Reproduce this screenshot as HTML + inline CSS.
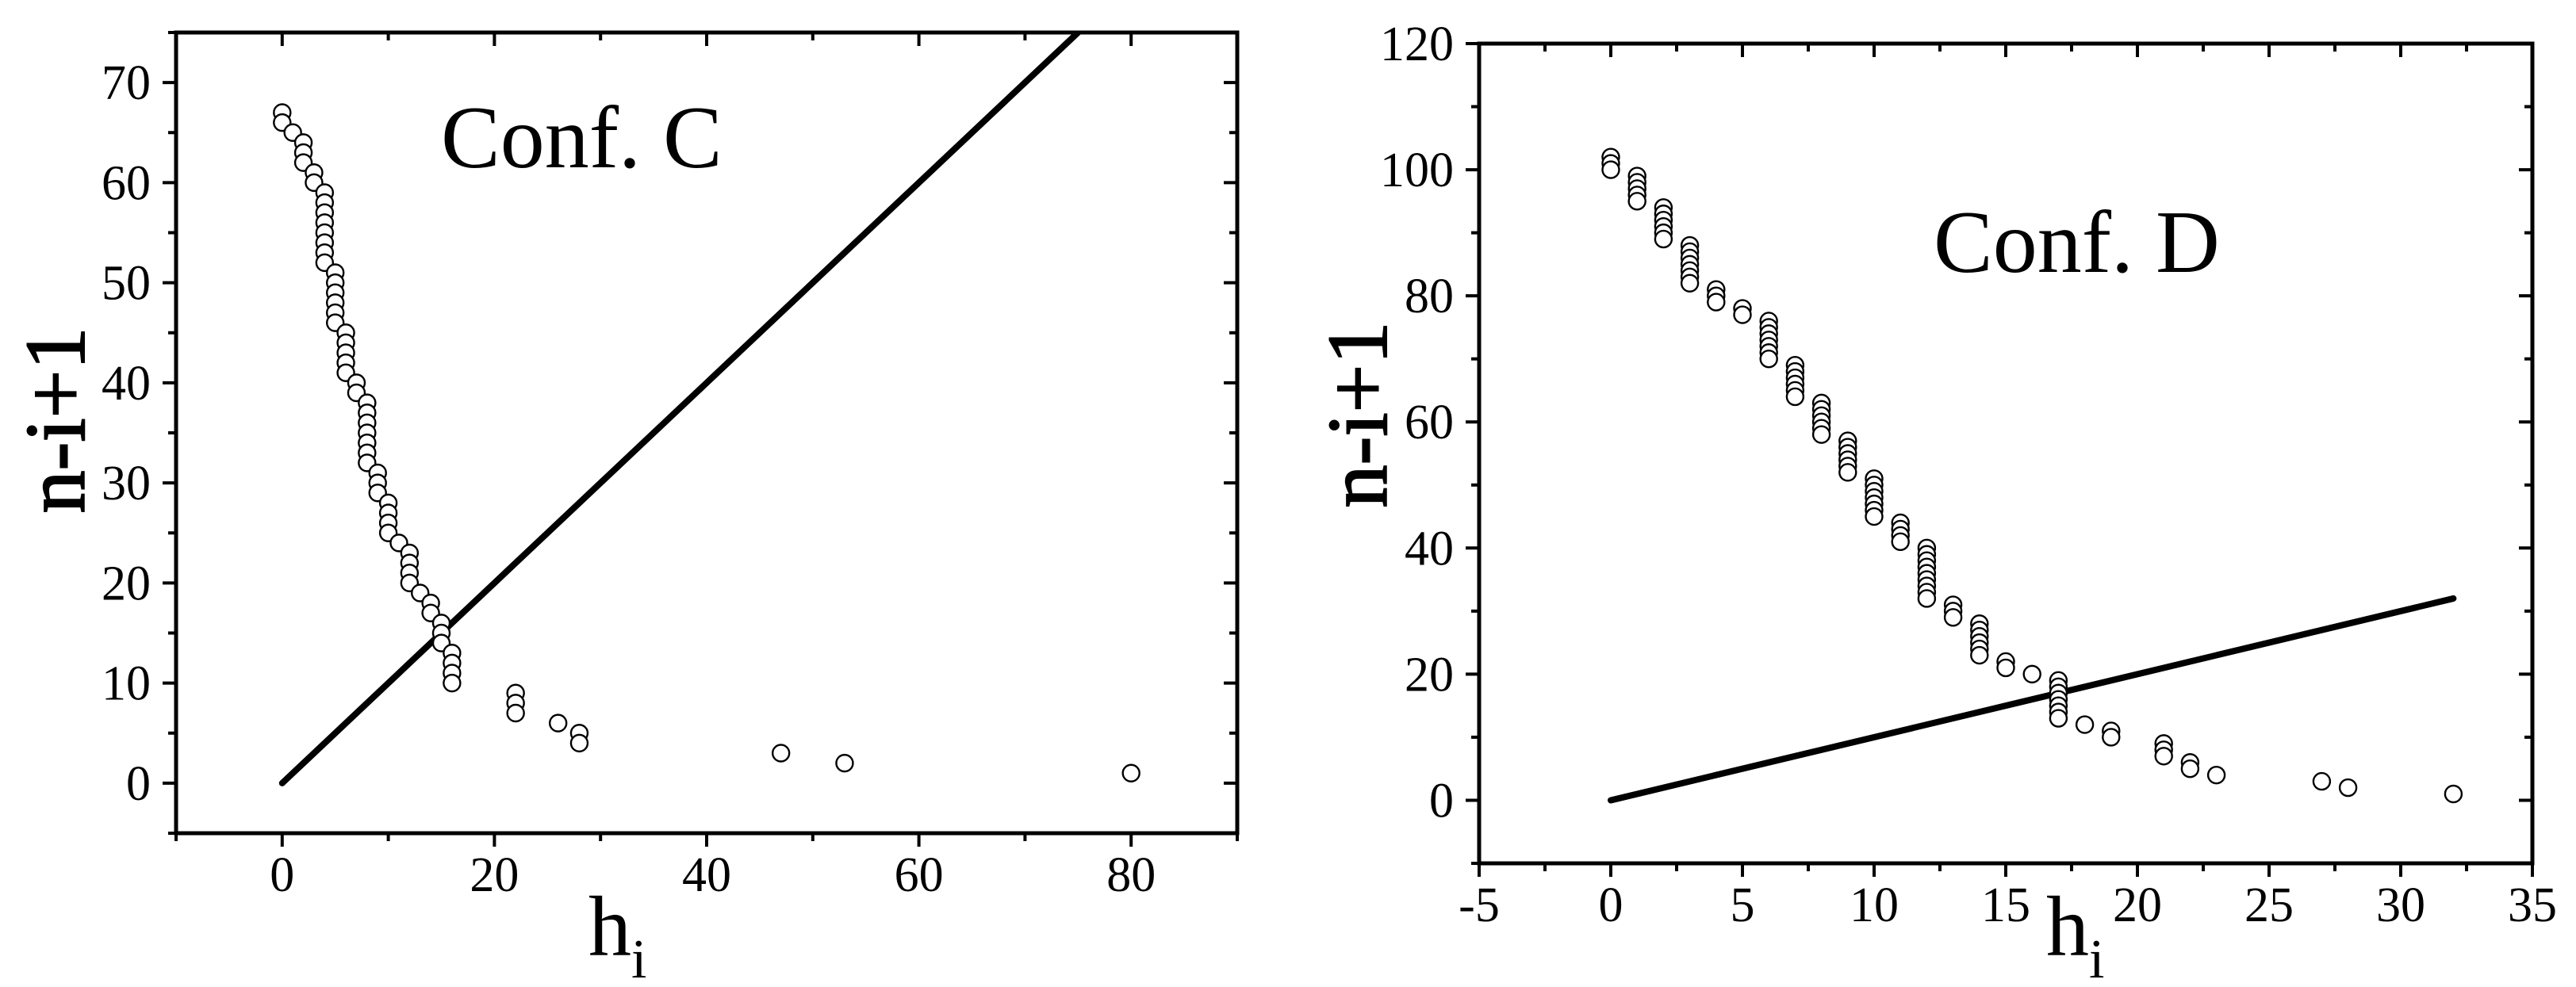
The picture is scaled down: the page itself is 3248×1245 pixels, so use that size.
<!DOCTYPE html>
<html><head><meta charset="utf-8">
<style>
html,body{margin:0;padding:0;background:#fff;}
svg{display:block;}
text{font-family:"Liberation Serif",serif;fill:#000;}
</style></head>
<body>
<svg id="fig" width="3248" height="1245" viewBox="0 0 3248 1245" xmlns="http://www.w3.org/2000/svg">
  <g id="panelC"></g>
  <g id="panelD"></g>
</svg>
<script>
// ---- Conf. C data ----
const hC = [0,0,1,2,2,2,3,3,4,4,4,4,4,4,4,4,5,5,5,5,5,5,6,6,6,6,6,7,7,8,8,8,8,8,8,8,9,9,9,10,10,10,10,11,12,12,12,12,13,14,14,15,15,15,16,16,16,16,22,22,22,26,28,28,47,53,80];
const yC = [67,66,65,64,63,62,61,60,59,58,57,56,55,54,53,52,51,50,49,48,47,46,45,44,43,42,41,40,39,38,37,36,35,34,33,32,31,30,29,28,27,26,25,24,23,22,21,20,19,18,17,16,15,14,13,12,11,10,9,8,7,6,5,4,3,2,1];
const lineC = [[0,0],[75,75]];
const xTicksC = [0,20,40,60,80];
const yTicksC = [0,10,20,30,40,50,60,70];

// ---- Conf. D data ----
const hD = [0,0,0,1,1,1,1,1,2,2,2,2,2,2,3,3,3,3,3,3,3,4,4,4,5,5,6,6,6,6,6,6,6,7,7,7,7,7,7,8,8,8,8,8,8,9,9,9,9,9,9,10,10,10,10,10,10,10,11,11,11,11,12,12,12,12,12,12,12,12,12,13,13,13,14,14,14,14,14,14,15,15,16,17,17,17,17,17,17,17,18,19,19,21,21,21,22,22,23,27,28,32];
const yD = [102,101,100,99,98,97,96,95,94,93,92,91,90,89,88,87,86,85,84,83,82,81,80,79,78,77,76,75,74,73,72,71,70,69,68,67,66,65,64,63,62,61,60,59,58,57,56,55,54,53,52,51,50,49,48,47,46,45,44,43,42,41,40,39,38,37,36,35,34,33,32,31,30,29,28,27,26,25,24,23,22,21,20,19,18,17,16,15,14,13,12,11,10,9,8,7,6,5,4,3,2,1];
const lineD = [[0,0],[32,32]];
const xTicksD = [-5,0,5,10,15,20,25,30,35];
const yTicksD = [0,20,40,60,80,100,120];

const NS = "http://www.w3.org/2000/svg";
function mk(parent, tag, attrs){
  const e = document.createElementNS(NS, tag);
  for (const k in attrs) e.setAttribute(k, attrs[k]);
  parent.appendChild(e);
  return e;
}

function drawPanel(g, cfg){
  const sx = v => cfg.L + (v - cfg.xmin) / (cfg.xmax - cfg.xmin) * (cfg.R - cfg.L);
  const sy = v => cfg.B - (v - cfg.ymin) / (cfg.ymax - cfg.ymin) * (cfg.B - cfg.T);
  const clipId = cfg.id + "clip";
  const defs = mk(g, "defs", {});
  const cp = mk(defs, "clipPath", {id: clipId});
  mk(cp, "rect", {x: cfg.L, y: cfg.T, width: cfg.R - cfg.L, height: cfg.B - cfg.T});

  const tk = mk(g, "g", {stroke: "#000", "stroke-width": 4});
  
  
  for (let v = cfg.xmin; v <= cfg.xmax + 1e-9; v += cfg.xminor){
    const major = Math.abs(((v - cfg.xTicks[0]) / cfg.xmajor) - Math.round((v - cfg.xTicks[0]) / cfg.xmajor)) < 1e-6;
    const len = major ? 17 : 10;
    const x = sx(v);
    mk(tk, "line", {x1: x, x2: x, y1: cfg.B, y2: cfg.B + len});
    mk(tk, "line", {x1: x, x2: x, y1: cfg.T, y2: cfg.T + len});
  }
  for (let v = cfg.ymin; v <= cfg.ymax + 1e-9; v += cfg.yminor){
    const major = Math.abs(((v - cfg.yTicks[0]) / cfg.ymajor) - Math.round((v - cfg.yTicks[0]) / cfg.ymajor)) < 1e-6;
    const len = major ? 17 : 10;
    const y = sy(v);
    mk(tk, "line", {x1: cfg.L, x2: cfg.L - len, y1: y, y2: y});
    mk(tk, "line", {x1: cfg.R, x2: cfg.R - len, y1: y, y2: y});
  }
  const fr = mk(g, "rect", {x: cfg.L, y: cfg.T, width: cfg.R - cfg.L, height: cfg.B - cfg.T, fill: "none", stroke: "#000", "stroke-width": 5});
  
  

  cfg.xTicks.forEach(v => {
    const t = mk(g, "text", {x: sx(v), y: cfg.xLabelY, "font-size": 62, "text-anchor": "middle"});
    
    
    t.textContent = v;
  });
  cfg.yTicks.forEach(v => {
    const t = mk(g, "text", {x: cfg.yLabelX, y: sy(v) + 21, "font-size": 62, "text-anchor": "end"});
    
    
    t.textContent = v;
  });

  const ln = mk(g, "line", {x1: sx(cfg.line[0][0]), y1: sy(cfg.line[0][1]), x2: sx(cfg.line[1][0]), y2: sy(cfg.line[1][1]),
    stroke: "#000", "stroke-width": 8, "stroke-linecap": "round", "clip-path": "url(#" + clipId + ")"});
  
  

  const pts = mk(g, "g", {fill: "#fff", stroke: "#000", "stroke-width": 2.4});
  
  
  for (let i = 0; i < cfg.h.length; i++){
    const c = mk(pts, "circle", {cx: sx(cfg.h[i]), cy: sy(cfg.y[i]), r: 10.5});
    
    
  }

  const ct = mk(g, "text", {x: cfg.confX, y: cfg.confY, "font-size": 112});
  
  
  ct.textContent = cfg.conf;

  const yt = mk(g, "text", {x: 0, y: 0, "font-size": 108, "stroke": "#000", "stroke-width": 2, "text-anchor": "middle",
    transform: "translate(" + cfg.ytX + "," + cfg.ytY + ") rotate(-90)"});
  
  
  yt.textContent = "n-i+1";

  const xt = mk(g, "text", {x: cfg.xtX, y: cfg.xtY, "font-size": 108});
  
  
  xt.textContent = "h";
  const sub = mk(xt, "tspan", {"font-size": 70, dy: 28});
  sub.textContent = "i";
}

drawPanel(document.getElementById("panelC"), {
  id: "c", L: 222, R: 1560, T: 41, B: 1051,
  xmin: -10, xmax: 90, ymin: -5, ymax: 75,
  xminor: 10, xmajor: 20, yminor: 5, ymajor: 10,
  xTicks: xTicksC, yTicks: yTicksC, h: hC, y: yC, line: lineC,
  xLabelY: 1124, yLabelX: 190,
  conf: "Conf. C", confX: 556, confY: 211,
  ytX: 106, ytY: 530, xtX: 742, xtY: 1205
});
drawPanel(document.getElementById("panelD"), {
  id: "d", L: 1865, R: 3193, T: 55, B: 1089,
  xmin: -5, xmax: 35, ymin: -10, ymax: 120,
  xminor: 2.5, xmajor: 5, yminor: 10, ymajor: 20,
  xTicks: xTicksD, yTicks: yTicksD, h: hD, y: yD, line: lineD,
  xLabelY: 1162, yLabelX: 1833,
  conf: "Conf. D", confX: 2438, confY: 343,
  ytX: 1748, ytY: 523, xtX: 2580, xtY: 1205
});
</script>
</body></html>
